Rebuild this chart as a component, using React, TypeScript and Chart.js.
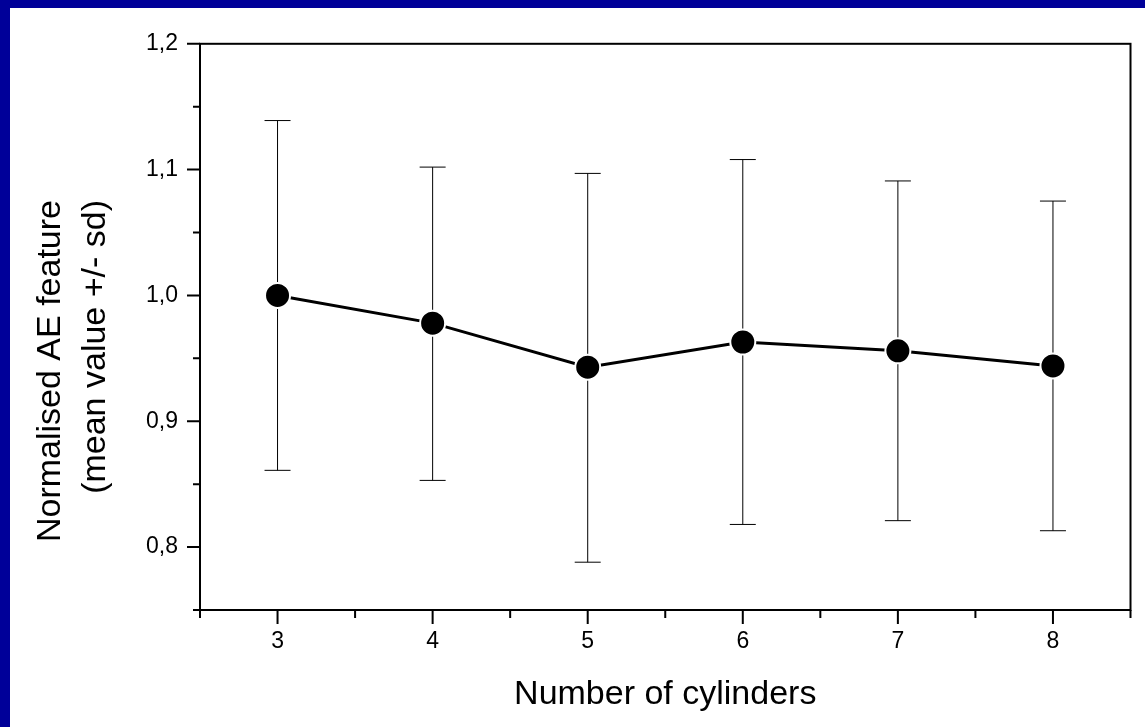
import React, { useEffect, useRef } from 'react';
import { Chart, registerables } from 'chart.js';

Chart.register(...registerables);

// ---- data ----
const cylinders = [3, 4, 5, 6, 7, 8];
const meanValues = [1.0, 0.978, 0.943, 0.963, 0.956, 0.944];
const upperValues = [1.139, 1.102, 1.097, 1.108, 1.091, 1.075];
const lowerValues = [0.861, 0.853, 0.788, 0.818, 0.821, 0.813];

const xTickValues = [3, 4, 5, 6, 7, 8];
const xTickLabels = ['3', '4', '5', '6', '7', '8'];
const xMinorTicks = [2.5, 3.5, 4.5, 5.5, 6.5, 7.5, 8.5];
const yTickValues = [0.8, 0.9, 1.0, 1.1, 1.2];
const yTickLabels = ['0,8', '0,9', '1,0', '1,1', '1,2'];
const yMinorTicks = [0.75, 0.85, 0.95, 1.05, 1.15];

const xTitle = 'Number of cylinders';
const yTitleLines = ['Normalised AE feature', '(mean value +/- sd)'];

const FONT = 'Arial, "Liberation Sans", sans-serif';

const framePlugin = {
  id: 'framePlugin',
  beforeDatasetsDraw(chart: any) {
    const { ctx, scales } = chart;
    const x = scales.x;
    const y = scales.y;
    ctx.save();
    ctx.strokeStyle = '#000';
    ctx.lineWidth = 1;
    cylinders.forEach((c, i) => {
      const px = x.getPixelForValue(c);
      const pu = y.getPixelForValue(upperValues[i]);
      const pl = y.getPixelForValue(lowerValues[i]);
      ctx.beginPath();
      ctx.moveTo(px, pu);
      ctx.lineTo(px, pl);
      ctx.moveTo(px - 13, pu);
      ctx.lineTo(px + 13, pu);
      ctx.moveTo(px - 13, pl);
      ctx.lineTo(px + 13, pl);
      ctx.stroke();
    });
    ctx.restore();
  },
  afterDraw(chart: any) {
    const { ctx, chartArea: a, scales } = chart;
    const x = scales.x;
    const y = scales.y;
    ctx.save();
    ctx.strokeStyle = '#000';
    ctx.lineWidth = 2;
    ctx.strokeRect(a.left, a.top, a.right - a.left, a.bottom - a.top);
    ctx.beginPath();
    xTickValues.forEach((v) => {
      const p = x.getPixelForValue(v);
      ctx.moveTo(p, a.bottom);
      ctx.lineTo(p, a.bottom + 14);
    });
    xMinorTicks.forEach((v) => {
      const p = x.getPixelForValue(v);
      ctx.moveTo(p, a.bottom);
      ctx.lineTo(p, a.bottom + 8);
    });
    yTickValues.forEach((v) => {
      const p = y.getPixelForValue(v);
      ctx.moveTo(a.left, p);
      ctx.lineTo(a.left - 13, p);
    });
    yMinorTicks.forEach((v) => {
      const p = y.getPixelForValue(v);
      ctx.moveTo(a.left, p);
      ctx.lineTo(a.left - 7, p);
    });
    ctx.stroke();

    // axis titles
    ctx.fillStyle = '#000';
    ctx.font = `34px ${FONT}`;
    ctx.textBaseline = 'alphabetic';
    ctx.textAlign = 'center';
    ctx.fillText(xTitle, (a.left + a.right) / 2, a.bottom + 94);

    ctx.translate(50, 192);
    ctx.rotate(-Math.PI / 2);
    ctx.textAlign = 'right';
    yTitleLines.forEach((line, i) => {
      ctx.fillText(line, 0, i * 45);
    });
    ctx.restore();
  },
};

export default function App() {
  const ref = useRef<HTMLCanvasElement | null>(null);

  useEffect(() => {
    if (!ref.current) return;
    Chart.defaults.font.family = FONT;
    const chart = new Chart(ref.current, {
      type: 'line',
      data: {
        datasets: [
          {
            data: cylinders.map((c, i) => ({ x: c, y: meanValues[i] })),
            borderColor: '#000',
            borderWidth: 3,
            pointRadius: 12.5,
            pointBorderWidth: 2,
            pointBorderColor: '#fff',
            pointBackgroundColor: '#000',
            tension: 0,
          },
        ],
      },
      options: {
        animation: false,
        responsive: false,
        maintainAspectRatio: false,
        devicePixelRatio: 1,
        events: [],
        layout: { padding: { top: 35, right: 11, left: 0, bottom: 0 } },
        plugins: {
          legend: { display: false },
          tooltip: { enabled: false },
        },
        scales: {
          x: {
            type: 'linear',
            min: 2.5,
            max: 8.5,
            afterBuildTicks: (s: any) => {
              s.ticks = xTickValues.map((v) => ({ value: v }));
            },
            afterFit: (s: any) => {
              s.height = 117;
            },
            ticks: {
              autoSkip: false,
              maxRotation: 0,
              padding: 18,
              color: '#000',
              font: { size: 23 },
              callback: (v: any) => xTickLabels[xTickValues.indexOf(Number(v))] ?? '',
            },
            grid: { display: false, drawTicks: false },
            border: { display: false },
          },
          y: {
            type: 'linear',
            min: 0.75,
            max: 1.2,
            afterBuildTicks: (s: any) => {
              s.ticks = yTickValues.map((v) => ({ value: v }));
            },
            afterFit: (s: any) => {
              s.width = 190;
            },
            ticks: {
              autoSkip: false,
              padding: 22,
              color: '#000',
              font: { size: 23 },
              callback: (v: any) => {
                const idx = yTickValues.findIndex((t) => Math.abs(t - Number(v)) < 1e-6);
                return idx >= 0 ? yTickLabels[idx] : '';
              },
            },
            grid: { display: false, drawTicks: false },
            border: { display: false },
          },
        },
      },
      plugins: [framePlugin],
    } as any);
    return () => chart.destroy();
  }, []);

  return (
    <div
      style={{
        position: 'fixed',
        left: 0,
        top: 0,
        width: 1145,
        height: 727,
        background: '#000099',
        overflow: 'hidden',
      }}
    >
      <div
        style={{
          position: 'absolute',
          left: 10,
          top: 8,
          width: 1135,
          height: 719,
          background: '#fff',
        }}
      >
        <canvas ref={ref} width={1135} height={719} style={{ display: 'block' }} />
      </div>
    </div>
  );
}
